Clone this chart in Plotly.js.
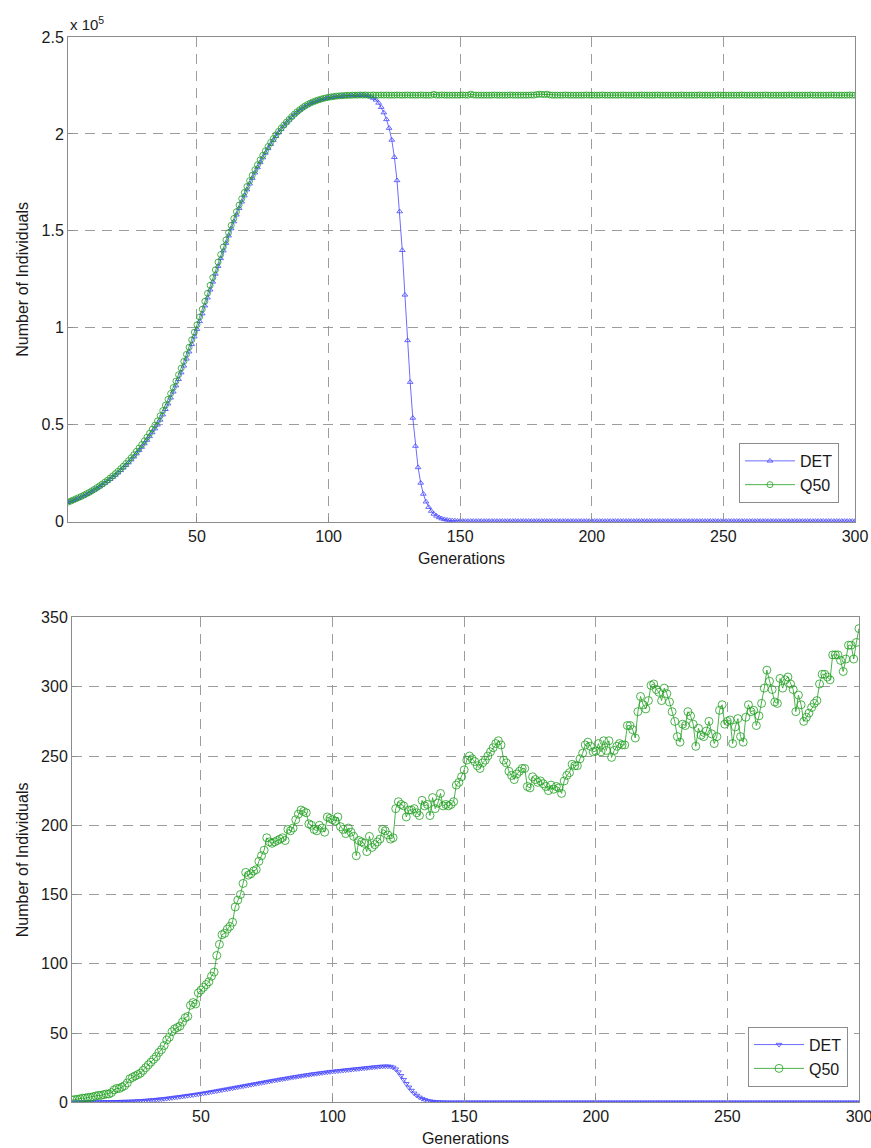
<!DOCTYPE html>
<html>
<head>
<meta charset="utf-8">
<script src="https://cdn.plot.ly/plotly-3.0.1.min.js"></script>
<style>
  html, body { margin: 0; padding: 0; background: #ffffff; }
  #chart { width: 871px; height: 1148px; }
</style>
</head>
<body>
<div id="chart"></div>
<script>
// Generation index (categories on the x axis)
const generations = Array.from({length: 300}, (_, i) => i + 1);

// Tick labels
const xTickVals = [50, 100, 150, 200, 250, 300];
const topYTickVals = [0, 0.5, 1, 1.5, 2, 2.5];
const topYTickText = ['0', '0.5', '1', '1.5', '2', '2.5'];
const bottomYTickVals = [0, 50, 100, 150, 200, 250, 300, 350];

// Top panel, values in units of 10^5 individuals
const topDET = [
  0.100,0.105,0.110,0.116,0.122,0.128,0.134,0.141,0.148,0.156,0.164,0.172,0.181,0.190,0.199,0.209,0.219,0.230,0.241,0.253,
  0.265,0.278,0.291,0.305,0.320,0.335,0.351,0.368,0.385,0.403,0.421,0.440,0.460,0.480,0.500,0.525,0.552,0.580,0.609,0.639,
  0.670,0.702,0.735,0.769,0.804,0.840,0.877,0.915,0.954,0.993,1.033,1.073,1.114,1.155,1.196,1.237,1.278,1.318,1.358,1.398,
  1.437,1.475,1.512,1.548,1.583,1.617,1.650,1.682,1.713,1.743,1.772,1.800,1.827,1.853,1.878,1.902,1.925,1.947,1.968,1.988,
  2.007,2.025,2.042,2.058,2.073,2.087,2.100,2.112,2.123,2.133,2.142,2.150,2.157,2.163,2.168,2.173,2.177,2.181,2.184,2.187,
  2.189,2.191,2.193,2.194,2.195,2.196,2.197,2.198,2.198,2.199,2.199,2.200,2.200,2.199,2.197,2.192,2.185,2.176,2.160,2.138,
  2.110,2.075,2.030,1.969,1.880,1.760,1.600,1.400,1.170,0.935,0.720,0.535,0.390,0.280,0.200,0.143,0.103,0.075,0.055,0.040,
  0.030,0.022,0.016,0.012,0.009,0.007,0.006,0.005,0.004,0.004,0.003,0.003,0.003,0.003,0.003,0.003,0.003,0.003,0.003,0.003,
  0.003,0.003,0.003,0.003,0.003,0.003,0.003,0.003,0.003,0.003,0.003,0.003,0.003,0.003,0.003,0.003,0.003,0.003,0.003,0.003,
  0.003,0.003,0.003,0.003,0.003,0.003,0.003,0.003,0.003,0.003,0.003,0.003,0.003,0.003,0.003,0.003,0.003,0.003,0.003,0.003,
  0.003,0.003,0.003,0.003,0.003,0.003,0.003,0.003,0.003,0.003,0.003,0.003,0.003,0.003,0.003,0.003,0.003,0.003,0.003,0.003,
  0.003,0.003,0.003,0.003,0.003,0.003,0.003,0.003,0.003,0.003,0.003,0.003,0.003,0.003,0.003,0.003,0.003,0.003,0.003,0.003,
  0.003,0.003,0.003,0.003,0.003,0.003,0.003,0.003,0.003,0.003,0.003,0.003,0.003,0.003,0.003,0.003,0.003,0.003,0.003,0.003,
  0.003,0.003,0.003,0.003,0.003,0.003,0.003,0.003,0.003,0.003,0.003,0.003,0.003,0.003,0.003,0.003,0.003,0.003,0.003,0.003,
  0.003,0.003,0.003,0.003,0.003,0.003,0.003,0.003,0.003,0.003,0.003,0.003,0.003,0.003,0.003,0.003,0.003,0.003,0.003,0.003
];
const topQ50 = [
  0.101,0.106,0.112,0.118,0.124,0.130,0.137,0.144,0.151,0.159,0.167,0.176,0.185,0.194,0.204,0.214,0.225,0.236,0.248,0.260,
  0.273,0.286,0.300,0.315,0.330,0.346,0.363,0.380,0.398,0.417,0.436,0.456,0.477,0.498,0.520,0.546,0.573,0.601,0.631,0.661,
  0.692,0.725,0.758,0.792,0.827,0.863,0.900,0.938,0.977,1.016,1.056,1.096,1.137,1.178,1.219,1.259,1.299,1.339,1.378,1.417,
  1.453,1.491,1.528,1.564,1.599,1.633,1.666,1.698,1.729,1.759,1.787,1.815,1.841,1.866,1.890,1.913,1.935,1.956,1.976,1.995,
  2.013,2.030,2.046,2.061,2.075,2.089,2.102,2.114,2.125,2.135,2.144,2.152,2.159,2.165,2.170,2.175,2.179,2.183,2.186,2.189,
  2.191,2.193,2.195,2.196,2.197,2.198,2.199,2.199,2.200,2.200,2.200,2.201,2.200,2.201,2.200,2.200,2.201,2.200,2.200,2.201,
  2.200,2.201,2.200,2.200,2.200,2.201,2.200,2.200,2.200,2.201,2.200,2.200,2.200,2.200,2.201,2.200,2.200,2.200,2.200,2.204,
  2.200,2.200,2.201,2.200,2.200,2.200,2.200,2.200,2.200,2.200,2.201,2.200,2.200,2.205,2.201,2.200,2.200,2.200,2.200,2.200,
  2.200,2.200,2.201,2.200,2.200,2.200,2.200,2.200,2.201,2.200,2.200,2.200,2.200,2.200,2.200,2.200,2.201,2.200,2.203,2.205,
  2.204,2.203,2.205,2.201,2.200,2.200,2.200,2.200,2.200,2.201,2.200,2.200,2.200,2.200,2.200,2.200,2.200,2.201,2.200,2.200,
  2.200,2.200,2.200,2.201,2.200,2.200,2.200,2.200,2.200,2.200,2.200,2.201,2.200,2.200,2.200,2.200,2.200,2.200,2.201,2.200,
  2.200,2.200,2.200,2.200,2.201,2.200,2.200,2.200,2.200,2.200,2.200,2.200,2.200,2.201,2.200,2.200,2.200,2.200,2.200,2.200,
  2.201,2.200,2.200,2.200,2.200,2.200,2.200,2.201,2.200,2.200,2.200,2.200,2.200,2.200,2.200,2.200,2.201,2.200,2.200,2.200,
  2.200,2.200,2.200,2.200,2.200,2.201,2.200,2.200,2.200,2.200,2.200,2.200,2.200,2.200,2.201,2.200,2.200,2.200,2.200,2.200,
  2.200,2.200,2.201,2.200,2.200,2.200,2.200,2.200,2.200,2.200,2.201,2.200,2.200,2.200,2.200,2.200,2.200,2.201,2.200,2.200
];

// Bottom panel, number of individuals
const bottomDET = [
  0.0,0.0,0.0,0.0,0.1,0.1,0.1,0.1,0.2,0.2,0.2,0.2,0.3,0.3,0.3,0.3,0.4,0.4,0.4,0.5,
  0.5,0.6,0.6,0.7,0.8,0.9,1.0,1.1,1.3,1.4,1.6,1.7,1.9,2.1,2.3,2.5,2.7,3.0,3.2,3.5,
  3.7,4.0,4.2,4.5,4.8,5.0,5.3,5.6,5.9,6.2,6.5,6.8,7.1,7.5,7.8,8.1,8.5,8.8,9.2,9.5,
  9.9,10.2,10.6,10.9,11.3,11.6,12.0,12.3,12.7,13.0,13.4,13.7,14.1,14.4,14.8,15.1,15.5,15.8,16.1,16.5,
  16.8,17.1,17.4,17.8,18.1,18.4,18.7,19.0,19.3,19.6,19.9,20.2,20.5,20.7,21.0,21.2,21.5,21.7,22.0,22.2,
  22.4,22.6,22.8,23.0,23.2,23.4,23.6,23.8,24.0,24.2,24.4,24.6,24.8,25.0,25.2,25.4,25.6,25.8,25.9,26.0,
  26.0,25.8,25.2,23.9,21.8,19.2,16.3,13.4,10.8,8.5,6.5,4.9,3.6,2.6,1.8,1.2,0.8,0.5,0.3,0.2,
  0.1,0.1,0,0,0,0,0,0,0,0,0,0,0,0,0,0,0,0,0,0,
  0,0,0,0,0,0,0,0,0,0,0,0,0,0,0,0,0,0,0,0,
  0,0,0,0,0,0,0,0,0,0,0,0,0,0,0,0,0,0,0,0,
  0,0,0,0,0,0,0,0,0,0,0,0,0,0,0,0,0,0,0,0,
  0,0,0,0,0,0,0,0,0,0,0,0,0,0,0,0,0,0,0,0,
  0,0,0,0,0,0,0,0,0,0,0,0,0,0,0,0,0,0,0,0,
  0,0,0,0,0,0,0,0,0,0,0,0,0,0,0,0,0,0,0,0,
  0,0,0,0,0,0,0,0,0,0,0,0,0,0,0,0,0,0,0,0
];
const bottomQ50 = [
  1.5,2,2,2.5,3,3,3.5,3.5,4,4.5,5,5,5.5,6,6,7,9,10,10,11,
  12,14,17,18,19,20,21,23,25,27,29,31,33,36,38,41,45,47,51,53,
  54,55,58,61,62,70,72,71,79,81,83,85,87,91,94,106,114,121,122,125,
  127,130,141,146,150,158,166,164,165,167,168,174,178,182,191,188,187,188,189,190,
  191,189,197,196,198,204,208,211,210,209,201,200,197,196,200,198,195,206,205,204,
  203,206,199,197,194,198,195,192,178,189,188,187,181,192,184,186,188,190,197,196,
  193,190,191,212,217,215,214,206,211,211,212,209,207,218,214,215,207,220,212,216,
  223,214,215,214,215,217,229,231,235,240,247,250,248,246,243,241,245,247,250,253,
  256,259,261,258,247,245,239,236,233,237,239,241,241,228,227,235,233,231,232,230,
  228,225,229,226,228,227,223,232,236,238,244,243,243,248,252,258,260,257,253,253.5,
  259,253,261,254,261,249,254,257,259,258,258,272,272,269,263,282,293,287,284,290,
  301,302,298,296,290,299,295,289,282,275,264,260,273,272,282,279,273,257,270,265,
  264,268,275,266,259,264,283,287,273,275,276,259,271,277,264,260,278,287,282,283,
  272,279,288,299,312,304,298,289,288,306,299,305,307,302,298,282,294,287,275,278,
  281,285,288,290,302,309,309,307,305,323,323,323,319,311,320,330,330,320,332,342
];

const BLUE = 'rgb(70,70,255)';
const GREEN = 'rgb(30,160,30)';

const traces = [
  {x: generations, y: topDET, name: 'DET', type: 'scatter', mode: 'lines+markers',
   xaxis: 'x', yaxis: 'y', legend: 'legend',
   line: {color: BLUE, width: 0.8},
   marker: {symbol: 'triangle-up-open', size: 5, color: BLUE, line: {width: 0.8}}},
  {x: generations, y: topQ50, name: 'Q50', type: 'scatter', mode: 'lines+markers',
   xaxis: 'x', yaxis: 'y', legend: 'legend',
   line: {color: GREEN, width: 0.8},
   marker: {symbol: 'circle-open', size: 6, color: GREEN, line: {width: 0.8}}},
  {x: generations, y: bottomDET, name: 'DET', type: 'scatter', mode: 'lines+markers',
   xaxis: 'x2', yaxis: 'y2', legend: 'legend2',
   line: {color: BLUE, width: 0.8},
   marker: {symbol: 'triangle-down-open', size: 5, color: BLUE, line: {width: 0.8}}},
  {x: generations, y: bottomQ50, name: 'Q50', type: 'scatter', mode: 'lines+markers',
   xaxis: 'x2', yaxis: 'y2', legend: 'legend2',
   line: {color: GREEN, width: 0.8},
   marker: {symbol: 'circle-open', size: 8, color: GREEN, line: {width: 0.8}}}
];

const AX = '#8c8c8c';
const GRID = '#9c9c9c';
const commonAxis = {
  showline: true, linecolor: AX, linewidth: 1, mirror: true,
  ticks: 'inside', ticklen: 5, tickcolor: AX,
  showgrid: true, gridcolor: GRID, gridwidth: 1, griddash: '10px,7px',
  zeroline: false, automargin: false,
  tickfont: {size: 16, color: '#1a1a1a'}
};

const legendStyle = {
  bgcolor: '#ffffff', bordercolor: '#8c8c8c', borderwidth: 1,
  font: {size: 16, color: '#1a1a1a'}, xanchor: 'right', yanchor: 'bottom',
  itemwidth: 50, tracegroupgap: 0
};

const layout = {
  width: 871, height: 1148,
  margin: {l: 60, r: 10, t: 20, b: 40},
  paper_bgcolor: '#ffffff', plot_bgcolor: '#ffffff',
  font: {family: '"Liberation Sans", Arial, sans-serif', size: 16, color: '#1a1a1a'},
  showlegend: true,
  xaxis: Object.assign({}, commonAxis, {
    domain: [0.00999, 0.99251], anchor: 'y', range: [1, 300], tickvals: xTickVals,
    ticklabeloverflow: 'allow',
    title: {text: 'Generations', font: {size: 16}, standoff: 8}
  }),
  yaxis: Object.assign({}, commonAxis, {
    domain: [0.53888, 0.98438], anchor: 'x', range: [0, 2.5],
    tickvals: topYTickVals, ticktext: topYTickText,
    title: {text: 'Number of Individuals', font: {size: 16}, standoff: 8}
  }),
  xaxis2: Object.assign({}, commonAxis, {
    domain: [0.01498, 0.99750], anchor: 'y2', range: [1, 300], tickvals: xTickVals,
    ticklabeloverflow: 'allow',
    title: {text: 'Generations', font: {size: 16}, standoff: 8}
  }),
  yaxis2: Object.assign({}, commonAxis, {
    domain: [0.00524, 0.45083], anchor: 'x2', range: [0, 350],
    tickvals: bottomYTickVals,
    title: {text: 'Number of Individuals', font: {size: 16}, standoff: 8}
  }),
  legend: Object.assign({}, legendStyle, {x: 0.9725, y: 0.5561}),
  legend2: Object.assign({}, legendStyle, {x: 0.9838, y: 0.0196}),
  annotations: [
    {text: 'x 10<sup>5</sup>', xref: 'paper', yref: 'paper', x: 0.01, y: 0.9858,
     xanchor: 'left', yanchor: 'bottom', showarrow: false, font: {size: 15, color: '#1a1a1a'}}
  ]
};

Plotly.newPlot('chart', traces, layout, {displayModeBar: false, staticPlot: true});
</script>
</body>
</html>
